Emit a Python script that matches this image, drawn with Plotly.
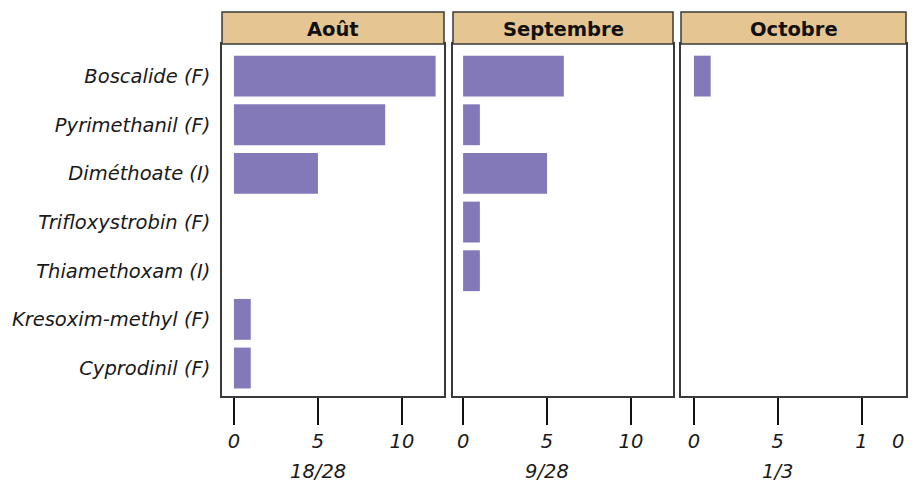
import plotly.graph_objects as go

categories = ["Boscalide (F)", "Pyrimethanil (F)", "Diméthoate (I)", "Trifloxystrobin (F)",
              "Thiamethoxam (I)", "Kresoxim-methyl (F)", "Cyprodinil (F)"]
months = ["Août", "Septembre", "Octobre"]
aout = [12, 9, 5, 0, 0, 1, 1]
septembre = [6, 1, 5, 1, 1, 0, 0]
octobre = [1, 0, 0, 0, 0, 0, 0]
ratios = ["18/28", "9/28", "1/3"]
x_ticks = [0, 5, 10]

W, H = 920, 486
FONT = "DejaVu Sans"
BAR = "#8479b8"
HEAD = "#e5c591"
EDGE = "#3a3a3a"
FS = 19.5

def px(x):
    return x / W

def py(y):
    return 1 - y / H

panels = [(222, 444), (453, 673), (681, 906)]
xranges = [[-0.71, 12.5], [-0.6, 12.5], [-0.77, 12.65]]
top, bottom, head_top = 44, 396, 12

fig = go.Figure()
series = [aout, septembre, octobre]
for i, vals in enumerate(series):
    sfx = "" if i == 0 else str(i + 1)
    fig.add_trace(go.Bar(
        x=vals, y=categories, orientation="h",
        marker=dict(color=BAR, line=dict(width=0)),
        width=0.84, xaxis="x" + sfx, yaxis="y" + sfx, showlegend=False,
        hoverinfo="x+y",
    ))

layout = dict(
    width=W, height=H, margin=dict(l=0, r=0, t=0, b=0),
    paper_bgcolor="white", plot_bgcolor="white",
    font=dict(family=FONT, color="#1a1a1a"),
)
tickfont = dict(family=FONT, size=FS, style="italic", color="#1a1a1a")
for i, (l, r) in enumerate(panels):
    sfx = "" if i == 0 else str(i + 1)
    ticktext = [str(t) for t in x_ticks]
    if i == 2:
        ticktext = ["0", "5", "1"]
    layout["xaxis" + sfx] = dict(
        domain=[px(l), px(r)], range=xranges[i], anchor="y" + sfx,
        tickmode="array", tickvals=x_ticks, ticktext=ticktext,
        ticks="outside", ticklen=27, tickwidth=2, tickcolor="#111",
        showgrid=False, zeroline=False, showline=True, mirror=True,
        linecolor=EDGE, linewidth=1.5, tickfont=tickfont, fixedrange=True,
    )
    ydict = dict(
        domain=[py(bottom), py(top)], anchor="x" + sfx,
        type="category", categoryorder="array", categoryarray=categories,
        range=[6.575, -0.66], showgrid=False, zeroline=False,
        showline=True, mirror=True, linecolor=EDGE, linewidth=1.5,
        ticks="", fixedrange=True,
    )
    if i == 0:
        ydict.update(showticklabels=True, tickfont=tickfont, ticklabelstandoff=6)
    else:
        ydict.update(showticklabels=False, matches="y")
    layout["yaxis" + sfx] = ydict

shapes = []
annotations = []
for i, (l, r) in enumerate(panels):
    shapes.append(dict(type="rect", xref="paper", yref="paper",
                       x0=px(l), x1=px(r), y0=py(top), y1=py(head_top),
                       fillcolor=HEAD, line=dict(color=EDGE, width=1.5), layer="above"))
    annotations.append(dict(text="<b>" + months[i] + "</b>", xref="paper", yref="paper",
                            x=px((l + r) / 2), y=py((top + head_top) / 2 + 1),
                            showarrow=False, xanchor="center", yanchor="middle",
                            font=dict(family=FONT, size=FS, color="#111")))
    sfx = "" if i == 0 else str(i + 1)
    annotations.append(dict(text=ratios[i], xref="x" + sfx, yref="paper",
                            x=5, y=py(471), showarrow=False,
                            xanchor="center", yanchor="middle",
                            font=dict(family=FONT, size=FS, style="italic", color="#1a1a1a")))
# detached "0" of the third panel's "10" label
annotations.append(dict(text="0", xref="x3", yref="paper", x=12.2, y=py(441),
                        showarrow=False, xanchor="center", yanchor="middle",
                        font=dict(family=FONT, size=FS, style="italic", color="#1a1a1a")))
layout["shapes"] = shapes
layout["annotations"] = annotations
fig.update_layout(**layout)
fig.write_html("out.html", config={"displayModeBar": False},
               post_script="document.body.style.margin='0';document.body.style.overflow='hidden';")
